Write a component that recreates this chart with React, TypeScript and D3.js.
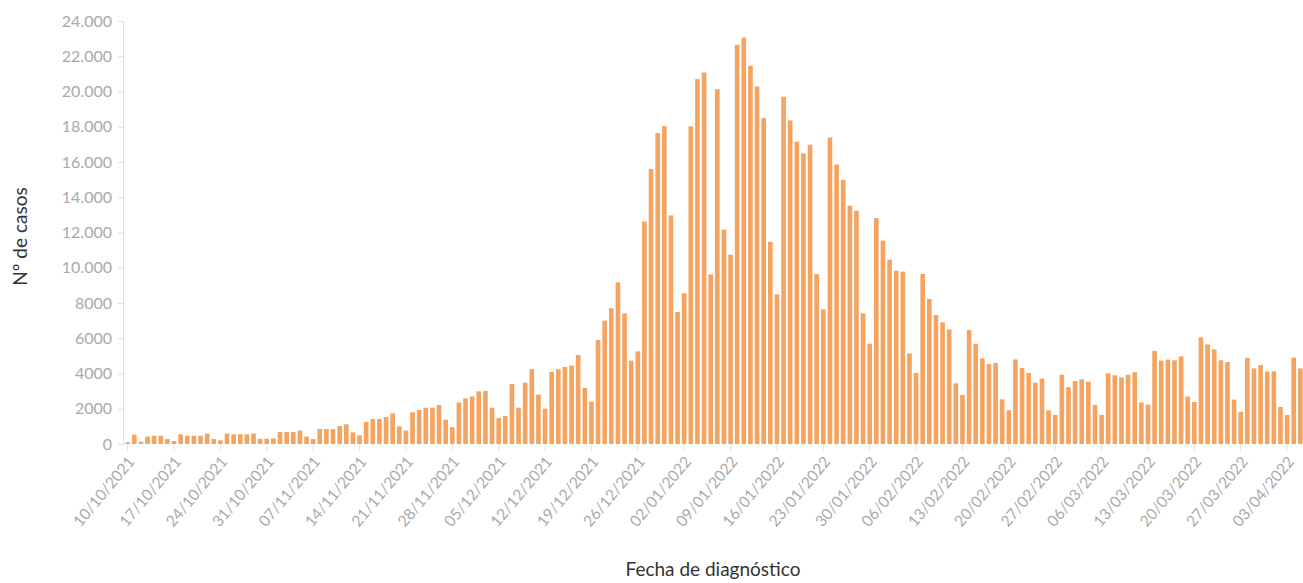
import * as d3 from 'd3'
import { useEffect, useRef } from 'react'

// daily cases, 10/10/2021 .. 05/04/2022
const startDate = '2021-10-10'
const cases: number[] = [
  100, 530, 130, 420, 470, 470, 280,
  170, 550, 470, 470, 470, 590, 280,
  210, 590, 550, 550, 550, 590, 300,
  300, 320, 680, 680, 680, 760, 420,
  280, 850, 850, 850, 1020, 1120, 660,
  490, 1250, 1420, 1420, 1530, 1740, 1000,
  760, 1800, 1930, 2060, 2060, 2210, 1380,
  950, 2350, 2590, 2700, 2990, 3010, 2060,
  1480, 1590, 3400, 2060, 3480, 4240, 2800,
  2000, 4090, 4240, 4370, 4450, 5050, 3180,
  2400, 5900, 7000, 7700, 9170, 7410, 4730,
  5260, 12630, 15600, 17640, 18040, 12970, 7490,
  8550, 18020, 20700, 21080, 9620, 20130, 12170,
  10740, 22650, 23060, 21460, 20280, 18490, 11470,
  8490, 19700, 18360, 17150, 16490, 16980, 9640,
  7640, 17390, 15860, 14990, 13520, 13230, 7410,
  5690, 12820, 11540, 10460, 9830, 9780, 5140,
  4030, 9650, 8230, 7320, 6900, 6500, 3440,
  2780, 6470, 5690, 4860, 4540, 4600, 2530,
  1910, 4800, 4310, 4030, 3480, 3710, 1910,
  1650, 3930, 3220, 3570, 3670, 3540, 2210,
  1650, 4010, 3900, 3780, 3930, 4070, 2360,
  2230, 5280, 4730, 4790, 4750, 4970, 2690,
  2380, 6050, 5650, 5370, 4750, 4650, 2520,
  1830, 4880, 4290, 4480, 4120, 4120, 2100,
  1650, 4900, 4290,
]
const yTicks: number[] = [0, 2000, 4000, 6000, 8000, 10000, 12000, 14000, 16000, 18000, 20000, 22000, 24000]
const yTitle = 'Nº de casos'
const xTitle = 'Fecha de diagnóstico'

export default function App() {
  const ref = useRef<SVGSVGElement>(null)

  const width = 1303
  const height = 583
  const margin = { top: 21, right: 0, bottom: 139, left: 123 }

  useEffect(() => {
    if (!ref.current) return
    const svg = d3.select(ref.current)
    svg.selectAll('*').remove()

    const start = d3.timeParse('%Y-%m-%d')(startDate) as Date
    const days = cases.map((_, i) => d3.timeDay.offset(start, i))
    const fmtDay = d3.timeFormat('%d/%m/%Y')
    const keys = days.map(d => fmtDay(d))

    const x = d3
      .scaleBand<string>()
      .domain(keys)
      .range([margin.left, width + 2])
      .paddingInner(0.3)
      .paddingOuter(0.35)

    const y = d3
      .scaleLinear()
      .domain([0, 24000])
      .range([height - margin.bottom, margin.top])

    const fmtY = (v: number) =>
      v >= 10000 ? d3.format(',')(v).replace(/,/g, '.') : String(v)

    const font = 'Lato, "Open Sans", sans-serif'

    // y axis
    const yAxis = svg
      .append('g')
      .attr('transform', `translate(${margin.left},0)`)
      .call(d3.axisLeft(y).tickValues(yTicks).tickFormat(d => fmtY(+d)).tickSize(5).tickPadding(6))
    yAxis.select('.domain').attr('stroke', '#e2e2e2')
    yAxis.selectAll('.tick line').attr('stroke', '#e2e2e2')
    yAxis
      .selectAll('.tick text')
      .attr('fill', '#a9a9a9')
      .attr('font-family', font)
      .attr('font-size', 16)

    // bars
    svg
      .append('g')
      .selectAll('rect')
      .data(cases)
      .join('rect')
      .attr('x', (_, i) => x(keys[i]) as number)
      .attr('y', d => y(d))
      .attr('width', x.bandwidth())
      .attr('height', d => y(0) - y(d))
      .attr('fill', '#f4a460')

    // x axis, one tick per week
    const weekly = keys.filter((_, i) => i % 7 === 0)
    const xAxis = svg
      .append('g')
      .attr('transform', `translate(0,${height - margin.bottom})`)
      .call(d3.axisBottom(x).tickValues(weekly).tickSize(7).tickSizeOuter(0))
    xAxis.select('.domain').remove()
    xAxis.selectAll('.tick line').attr('stroke', '#e2e2e2')
    xAxis
      .selectAll('.tick text')
      .attr('fill', '#a9a9a9')
      .attr('font-family', font)
      .attr('font-size', 15.5)
      .attr('text-anchor', 'end')
      .attr('dy', null)
      .attr('y', 0)
      .attr('transform', 'translate(8,18) rotate(-50)')

    // titles
    svg
      .append('text')
      .attr('transform', `translate(27,${(margin.top + height - margin.bottom) / 2 + 4}) rotate(-90)`)
      .attr('text-anchor', 'middle')
      .attr('font-family', font)
      .attr('font-size', 19)
      .attr('fill', '#333')
      .text(yTitle)

    svg
      .append('text')
      .attr('x', (margin.left + width) / 2)
      .attr('y', 576)
      .attr('text-anchor', 'middle')
      .attr('font-family', font)
      .attr('font-size', 19)
      .attr('fill', '#333')
      .text(xTitle)
  }, [])

  return (
    <svg
      ref={ref}
      width={width}
      height={height}
      style={{ position: 'absolute', left: 0, top: 0, background: '#fff' }}
    />
  )
}
